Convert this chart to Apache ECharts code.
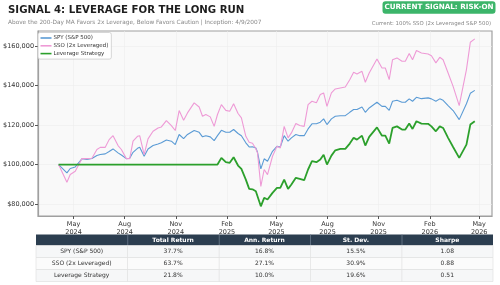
<!DOCTYPE html>
<html><head><meta charset="utf-8">
<script src="https://cdn.jsdelivr.net/npm/echarts@6/dist/echarts.min.js"></script>
<style>html,body{margin:0;padding:0;background:#fff}#c{width:500px;height:285px}</style>
</head><body><div id="c"></div>
<script>
// values in thousands of dollars
const dates = [
 '2024-04-04','2024-04-19','2024-04-25','2024-05-04','2024-05-16','2024-05-25','2024-06-03','2024-06-12','2024-06-18','2024-06-27','2024-07-04','2024-07-11','2024-07-20','2024-07-26','2024-08-04','2024-08-10','2024-08-16','2024-08-24','2024-08-28','2024-09-05','2024-09-12','2024-09-21','2024-09-30','2024-10-06',
 '2024-10-15','2024-10-24','2024-10-31','2024-11-07','2024-11-15','2024-11-22','2024-12-04','2024-12-13','2024-12-19','2024-12-25','2025-01-02','2025-01-09','2025-01-15','2025-01-22','2025-01-30','2025-02-06','2025-02-13','2025-02-21','2025-02-27','2025-03-07','2025-03-13','2025-03-19','2025-03-25','2025-03-28','2025-04-03',
 '2025-04-09','2025-04-15','2025-04-24','2025-05-02','2025-05-08','2025-05-15','2025-05-22','2025-05-28','2025-06-05','2025-06-12','2025-06-20','2025-06-27','2025-07-04','2025-07-12','2025-07-19','2025-07-25','2025-07-31','2025-08-08','2025-08-15','2025-08-24','2025-09-02','2025-09-10','2025-09-17','2025-09-23','2025-10-02','2025-10-08','2025-10-15',
 '2025-10-29','2025-11-07','2025-11-13','2025-11-20','2025-11-26','2025-12-04','2025-12-13','2025-12-19','2025-12-26','2026-01-01','2026-01-08','2026-01-17','2026-01-29','2026-02-04','2026-02-12','2026-02-19','2026-02-25','2026-03-06','2026-03-15','2026-03-26','2026-04-08','2026-04-15','2026-04-23'
];
const spy = [
 100,95.8,98,98.8,102.9,102.6,103.1,104.6,105.1,105.4,106.6,107.9,105.9,104.8,103,103.2,106.2,108.2,108.7,104.2,107.9,109.6,110.4,111,
 112.4,111.8,110.1,115.2,113.1,115.2,117.2,116.3,114,114.6,114,112.1,114.6,117.3,116.3,116.3,117.7,115.7,114.6,111,108.9,109,108.4,106.2,97.8,
 102.9,101.7,106.7,109.2,108.9,114.6,111.8,113.5,115.2,114.6,114.6,118,120.6,120.6,121.4,123.1,120.2,123.1,124.4,124.7,124.7,126.4,127.8,127.8,129.1,126.4,128.6,
 131.5,129.4,129.4,127.4,132,132.5,131.5,131.5,133.2,132,134,133.3,133.7,133.2,132,133.2,132.5,129.8,127.3,122.7,130.7,136,137.5
];
const sso = [
 100,91.1,95,96.6,103,103,103.2,107.6,108.7,108.7,112.6,114.6,109.6,107.6,103,103,111.8,114.3,114.6,105,113,116.8,118.5,119,
 122.2,119.7,117.2,127.3,122.4,126.1,131.2,129.1,124.4,125.3,124.1,119.3,125.3,130.3,127.4,126.9,130.7,125.8,123.6,114.3,111.3,110.8,108,105.9,89,
 97.5,94.9,104.2,109.2,108.4,119.3,113.5,116,120.7,119.7,119.3,130.3,132,131.2,135.4,136.2,129.4,136.2,138.2,138.7,139.2,142.9,146.6,145.8,147.1,141.6,146.3,
 153.4,148.8,148.8,142.9,153,153.9,152.2,152.2,156.1,153,157.6,156.4,155.9,155,151.4,154.2,153,146.3,139.5,129.8,148,161.8,163.5
];
const strategy = [
 100,100,100,100,100,100,100,100,100,100,100,100,100,100,100,100,100,100,100,100,100,100,100,100,
 100,100,100,100,100,100,100,100,100,100,100,100,100,103.4,101.2,100.9,103.7,99.5,97.8,92.4,87.7,87.5,86.5,85.7,78.9,
 83.2,82.3,85.7,88.2,88.2,92.4,87.7,89.9,93.3,92.8,92.1,97.5,101.7,101.2,102.5,105,100,104.5,107.2,107.9,107.9,110.6,113.5,112.6,114.6,109.6,114,
 118.8,114.6,114.6,110.6,118.5,119.3,117.7,117.7,120.7,118,121.9,120.7,120.6,119.3,116.8,119.3,118.5,113.5,108.9,103.4,110.1,120.2,121.9
];
const UNIT = 1000;
const seriesNames = ['SPY (S&P 500)', 'SSO (2x Leveraged)', 'Leverage Strategy'];
const yTicks = [80000, 100000, 120000, 140000, 160000];
const xTicks = ['2024-05-01','2024-08-01','2024-11-01','2025-02-01','2025-05-01','2025-08-01','2025-11-01','2026-02-01','2026-05-01'];
const tableHeaders = ['', 'Total Return', 'Ann. Return', 'St. Dev.', 'Sharpe'];
const tableRows = [
 ['SPY (S&P 500)', '37.7%', '16.8%', '15.5%', '1.08'],
 ['SSO (2x Leveraged)', '63.7%', '27.1%', '30.9%', '0.88'],
 ['Leverage Strategy', '21.8%', '10.0%', '19.6%', '0.51']
];
const titleText = 'SIGNAL 4: LEVERAGE FOR THE LONG RUN';
const subtitleText = 'Above the 200-Day MA Favors 2x Leverage, Below Favors Caution | Inception: 4/9/2007';
const badgeText = 'CURRENT SIGNAL: RISK-ON';
const currentText = 'Current: 100% SSO (2x Leveraged S&P 500)';

const FONT = 'DejaVu Sans';
const MONTHS = ['Jan','Feb','Mar','Apr','May','Jun','Jul','Aug','Sep','Oct','Nov','Dec'];
function ts(s){ const p = s.split('-'); return Date.UTC(+p[0], +p[1]-1, +p[2]); }
function pairs(arr){ return dates.map((d,i)=>[ts(d), arr[i]*UNIT]); }
function money(v){ return '$' + String(Math.round(v)).replace(/\B(?=(\d{3})+(?!\d))/g, ','); }

const chart = echarts.init(document.getElementById('c'), null, {renderer:'canvas'});

// table graphics
const tX = 36, tW = 457, tTop = 234.5, hH = 11, rH = 12;
const colW = tW / tableHeaders.length;
const g = [];
g.push({type:'rect', shape:{x:tX, y:tTop, width:tW, height:hH}, style:{fill:'#2c3e50'}});
tableHeaders.forEach((h,i)=>{
  if (i>0) g.push({type:'rect', shape:{x:tX+colW*i, y:tTop, width:0.8, height:hH}, style:{fill:'#6b7b8c'}});
  g.push({type:'text', x:tX+colW*i+colW/2, y:tTop+hH/2, style:{text:h, fill:'#fff', font:'bold 6px "DejaVu Sans"', align:'center', verticalAlign:'middle'}});
});
tableRows.forEach((row,r)=>{
  const y = tTop + hH + r*rH;
  g.push({type:'rect', shape:{x:tX, y:y, width:tW, height:rH}, style:{fill: r%2===0 ? '#f6f7f8' : '#fbfbfb', stroke:'#dddddd', lineWidth:0.6}});
  row.forEach((cell,c)=>{
    if (c>0) g.push({type:'rect', shape:{x:tX+colW*c, y:y, width:0.6, height:rH}, style:{fill:'#dddddd'}});
    g.push({type:'text', x:tX+colW*c+colW/2, y:y+rH/2, style:{text:cell, fill:'#333', font:'6px "DejaVu Sans"', align:'center', verticalAlign:'middle'}});
  });
});
// title & header
g.push({type:'text', x:8, y:10, style:{text:titleText, fill:'#1e1e1e', font:'bold 10.2px "DejaVu Sans"', verticalAlign:'middle'}});
g.push({type:'text', x:8, y:22, style:{text:subtitleText, fill:'#888', font:'5.8px "DejaVu Sans"', verticalAlign:'middle'}});
g.push({type:'rect', shape:{x:382.5, y:1.2, width:113, height:12.5, r:3}, style:{fill:'#3cb56a'}});
g.push({type:'text', x:439, y:7.6, style:{text:badgeText, fill:'#fff', font:'bold 7.2px "DejaVu Sans"', align:'center', verticalAlign:'middle'}});
g.push({type:'text', x:491, y:23.5, style:{text:currentText, fill:'#888', font:'5.4px "DejaVu Sans"', align:'right', verticalAlign:'middle'}});

const colors = ['#5b9bd5', '#ee9ad6', '#2ca02c'];
const vals = [spy, sso, strategy];

chart.setOption({
  animation:false,
  textStyle:{fontFamily:FONT},
  grid:{left:36, top:31, width:456, height:185, show:true, backgroundColor:'#f9f9f9', borderColor:'#a0a0a0', borderWidth:1.2, containLabel:false},
  xAxis:{type:'value', min:ts('2024-02-27'), max:ts('2026-05-24'),
    axisLine:{show:true, onZero:false, lineStyle:{color:'#a0a0a0', width:1.2}},
    axisTick:{show:true, length:3, lineStyle:{color:'#555'}, customValues: xTicks.map(ts)},
    axisLabel:{customValues: xTicks.map(ts), fontSize:6.5, color:'#333', lineHeight:8, margin:4,
      formatter:(v)=>{ const d=new Date(v); return MONTHS[d.getUTCMonth()] + '\n' + d.getUTCFullYear(); }},
    splitLine:{show:true, lineStyle:{color:'#ececec', width:0.6}}
  },
  yAxis:{type:'value', min:74000, max:167500,
    axisLine:{show:true, onZero:false, lineStyle:{color:'#a0a0a0', width:1.2}},
    axisTick:{show:true, length:3, lineStyle:{color:'#555'}, customValues:yTicks},
    axisLabel:{customValues:yTicks, fontSize:6.5, color:'#333', margin:4, formatter:money},
    splitLine:{show:true, lineStyle:{color:'#ececec', width:0.6}}
  },
  legend:{orient:'vertical', left:38, top:32.5, itemWidth:11, itemHeight:1.6, icon:'rect', itemGap:1.8,
    padding:[2.5,3,2.5,2.5], backgroundColor:'rgba(255,255,255,0.92)', borderColor:'#cccccc', borderWidth:0.8, borderRadius:2,
    textStyle:{fontSize:5.5, color:'#333', padding:[0,0,0,-3]}, data: seriesNames},
  series: seriesNames.map((n,i)=>({
    name:n, type:'line', data:pairs(vals[i]), showSymbol:false, symbol:'none',
    lineStyle:{color:colors[i], width: i===2 ? 1.8 : 1.1}, itemStyle:{color:colors[i]}, z: 2+i
  })),
  graphic:g
});
</script></body></html>
